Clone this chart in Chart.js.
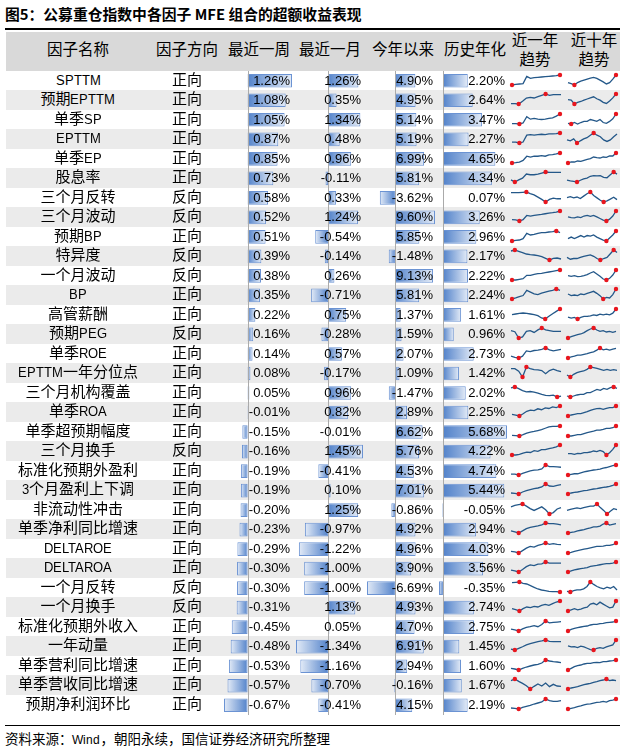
<!DOCTYPE html>
<html>
<head>
<meta charset="utf-8">
<script src="https://cdn.jsdelivr.net/npm/chart.js@4.4.0/dist/chart.umd.min.js"></script>
<style>
@font-face { font-family: 'LatinSm'; src: local('Liberation Sans'), local('LiberationSans'); size-adjust: 87%; }
body { margin: 0; background: #fff; }
#page { position: relative; width: 624px; height: 751px; overflow: hidden; font-family: 'LatinSm', 'Noto Sans CJK SC', sans-serif; color: #000; }
.abs { position: absolute; white-space: nowrap; }
.title { left: 5px; top: 4px; font-size: 14.8px; font-weight: bold; font-family: 'Noto Sans CJK SC', sans-serif; line-height: 20px; }
.rule { left: 5px; width: 615px; background: #000; }
.band { left: 6px; width: 614px; }
.cell { font-size: 15px; text-align: center; z-index: 3; }
.num { font-family: 'Liberation Sans', Arial, sans-serif; font-size: 13px; text-align: right; z-index: 3; }
.head { font-size: 15.5px; text-align: center; line-height: 19px; z-index: 3; }
.foot { left: 5px; top: 731px; font-size: 13.5px; line-height: 18px; }
canvas { position: absolute; z-index: 2; }
</style>
</head>
<body>
<div id="page"></div>
<script>
const factorNames = ['SPTTM', '预期EPTTM', '单季SP', 'EPTTM', '单季EP', '股息率', '三个月反转', '三个月波动',
    '预期BP', '特异度', '一个月波动', 'BP', '高管薪酬', '预期PEG', '单季ROE', 'EPTTM一年分位点', '三个月机构覆盖',
    '单季ROA', '单季超预期幅度', '三个月换手', '标准化预期外盈利', '3个月盈利上下调', '非流动性冲击', '单季净利同比增速',
    'DELTAROE', 'DELTAROA', '一个月反转', '一个月换手', '标准化预期外收入', '一年动量', '单季营利同比增速',
    '单季营收同比增速', '预期净利润环比'];
const directions = ['正向', '正向', '正向', '正向', '正向', '正向', '反向', '反向', '正向', '反向', '反向', '正向',
    '正向', '反向', '正向', '正向', '正向', '正向', '正向', '反向', '正向', '正向', '正向', '正向', '正向', '正向',
    '反向', '反向', '正向', '正向', '正向', '正向', '正向'];
const weekRet = [1.26, 1.08, 1.05, 0.87, 0.85, 0.73, 0.58, 0.52, 0.51, 0.39, 0.38, 0.35, 0.22, 0.16, 0.14, 0.08,
    0.05, -0.01, -0.15, -0.16, -0.19, -0.19, -0.20, -0.23, -0.29, -0.30, -0.30, -0.31, -0.45, -0.48, -0.53, -0.57, -0.67];
const monthRet = [1.26, 0.35, 1.34, 0.48, 0.96, -0.11, 0.33, 1.24, -0.54, -0.14, 0.26, -0.71, 0.75, -0.28, 0.57,
    -0.17, 0.96, 0.82, -0.01, 1.45, -0.41, 0.10, 1.25, -0.97, -1.22, -1.00, -1.00, 1.13, 0.05, -1.34, -1.16, -0.70, -0.41];
const ytdRet = [4.90, 4.95, 5.14, 5.19, 6.99, 5.81, -3.62, 9.60, 5.85, -1.48, 9.13, 5.81, 1.37, 1.59, 2.07, 1.09,
    -1.47, 2.89, 6.62, 5.76, 4.53, 7.01, -0.86, 4.92, 4.96, 3.90, -6.69, 4.93, 4.70, 6.91, 2.94, -0.16, 4.15];
const annualRet = [2.20, 2.64, 3.47, 2.27, 4.65, 4.34, 0.07, 3.26, 2.96, 2.17, 2.22, 2.24, 1.61, 0.96, 2.73, 1.42,
    2.02, 2.25, 5.68, 4.22, 4.74, 5.44, -0.05, 2.94, 4.03, 3.56, -0.35, 2.74, 2.75, 1.45, 1.60, 1.67, 2.19];

// sparkline values (arbitrary units, each line scaled on its own)
const trend1y = [
    [2, 4, 5, 6, 28, 22, 24, 25, 26, 27, 28, 29, 30, 32],
    [13, 13, 12, 20, 30, 32, 30, 34, 38, 42, 38, 40, 40, 40],
    [15, 15, 14, 17, 35, 28, 30, 28, 27, 28, 30, 32, 37, 43],
    [18, 18, 15, 18, 40, 42, 40, 42, 43, 42, 44, 44, 45, 47],
    [17, 18, 20, 25, 38, 35, 38, 38, 40, 38, 42, 43, 45, 48],
    [15, 9, 15, 20, 32, 30, 30, 32, 35, 38, 37, 37, 37, 37],
    [39, 39, 39, 40, 41, 36, 32, 25, 18, 10, 18, 22, 20, 20],
    [18, 17, 14, 18, 30, 28, 30, 32, 33, 35, 37, 38, 40, 43],
    [15, 17, 18, 22, 38, 33, 35, 38, 40, 40, 42, 43, 45, 40],
    [44, 47, 43, 39, 35, 33, 32, 30, 27, 22, 17, 22, 23, 20],
    [8, 8, 10, 12, 22, 22, 25, 27, 28, 30, 32, 34, 36, 38],
    [15, 18, 22, 25, 40, 35, 30, 28, 32, 35, 38, 40, 44, 40],
    [30, 32, 34, 35, 34, 32, 30, 27, 20, 17, 25, 33, 40, 47],
    [30, 27, 10, 13, 28, 30, 25, 32, 37, 32, 30, 28, 28, 28],
    [15, 12, 10, 15, 30, 28, 31, 32, 34, 38, 33, 30, 32, 34],
    [38, 38, 30, 12, 43, 38, 35, 34, 32, 22, 32, 36, 32, 29],
    [40, 43, 38, 32, 28, 29, 27, 24, 20, 17, 16, 18, 12, 15],
    [10, 8, 5, 12, 20, 24, 22, 28, 25, 31, 29, 34, 32, 37],
    [8, 7, 6, 10, 15, 18, 20, 23, 26, 30, 34, 36, 36, 37],
    [20, 20, 22, 25, 28, 27, 32, 30, 35, 35, 38, 40, 43, 48],
    [12, 12, 9, 14, 18, 22, 24, 25, 28, 40, 35, 35, 34, 33],
    [15, 14, 12, 18, 22, 25, 28, 30, 33, 42, 36, 35, 38, 40],
    [30, 34, 36, 38, 32, 25, 20, 25, 30, 22, 10, 14, 24, 28],
    [18, 15, 12, 18, 24, 28, 30, 32, 35, 40, 38, 38, 37, 35],
    [18, 16, 13, 20, 27, 32, 30, 35, 38, 42, 38, 40, 38, 37],
    [20, 18, 15, 22, 30, 35, 33, 37, 38, 43, 40, 40, 40, 40],
    [34, 35, 36, 32, 30, 25, 20, 15, 12, 10, 8, 7, 7, 6],
    [15, 12, 8, 15, 20, 18, 22, 20, 25, 28, 25, 30, 35, 38],
    [15, 13, 10, 16, 20, 22, 25, 22, 28, 38, 33, 34, 35, 36],
    [15, 12, 17, 22, 28, 32, 35, 38, 40, 43, 39, 38, 38, 38],
    [8, 6, 3, 8, 12, 15, 18, 20, 24, 33, 30, 28, 27, 25],
    [30, 35, 28, 22, 15, 5, 13, 20, 14, 23, 12, 19, 14, 13],
    [10, 9, 7, 12, 15, 18, 22, 25, 28, 37, 32, 30, 30, 32]
];
const trend10y = [
    [10, 7, 3, 10, 14, 17, 20, 23, 25, 22, 17, 12, 6, 10, 20, 32],
    [22, 20, 6, 12, 15, 20, 24, 28, 32, 25, 20, 12, 8, 17, 28, 42],
    [20, 18, 22, 18, 22, 25, 25, 30, 28, 25, 30, 22, 20, 25, 32, 45],
    [25, 22, 28, 15, 22, 28, 32, 40, 47, 40, 35, 25, 20, 25, 35, 44],
    [17, 20, 20, 23, 22, 25, 28, 30, 35, 33, 32, 35, 34, 38, 38, 47],
    [15, 13, 12, 10, 15, 19, 21, 26, 28, 27, 28, 23, 22, 30, 38, 32],
    [25, 28, 24, 27, 22, 30, 38, 44, 32, 24, 16, 10, 14, 20, 26, 18],
    [25, 23, 22, 25, 23, 28, 30, 27, 30, 25, 20, 15, 12, 18, 28, 44],
    [20, 25, 20, 25, 30, 25, 30, 28, 32, 25, 20, 15, 12, 22, 32, 45],
    [25, 20, 22, 22, 25, 28, 30, 32, 28, 22, 18, 22, 25, 35, 45, 38],
    [20, 18, 20, 17, 18, 20, 23, 28, 32, 25, 18, 10, 7, 12, 22, 37],
    [30, 25, 27, 25, 30, 28, 32, 35, 38, 32, 25, 15, 20, 18, 28, 45],
    [23, 20, 22, 17, 22, 25, 25, 27, 30, 28, 32, 30, 32, 30, 35, 48],
    [8, 12, 15, 18, 20, 24, 30, 35, 38, 32, 28, 30, 26, 28, 25, 28],
    [10, 13, 15, 18, 18, 20, 22, 25, 27, 32, 38, 33, 35, 32, 35, 37],
    [18, 12, 20, 25, 28, 30, 35, 42, 40, 38, 35, 32, 35, 32, 34, 32],
    [15, 12, 15, 18, 20, 20, 25, 25, 30, 35, 32, 38, 35, 40, 42, 38],
    [5, 8, 10, 12, 12, 15, 18, 22, 25, 27, 28, 25, 28, 30, 30, 35],
    [8, 8, 10, 12, 12, 15, 18, 20, 22, 25, 25, 27, 30, 30, 32, 37],
    [22, 22, 20, 23, 22, 25, 25, 27, 30, 28, 32, 28, 18, 25, 35, 48],
    [8, 10, 12, 12, 15, 18, 20, 22, 24, 25, 27, 30, 32, 35, 38, 40],
    [12, 15, 17, 18, 20, 22, 23, 25, 27, 28, 30, 32, 33, 35, 38, 42],
    [20, 23, 25, 27, 25, 28, 30, 32, 32, 38, 28, 20, 10, 18, 25, 22],
    [12, 14, 15, 18, 20, 22, 25, 27, 30, 30, 32, 38, 41, 35, 37, 39],
    [13, 15, 18, 20, 22, 24, 26, 28, 30, 32, 32, 33, 35, 35, 37, 42],
    [14, 17, 20, 22, 24, 25, 27, 30, 32, 33, 35, 37, 38, 38, 40, 43],
    [8, 6, 10, 12, 12, 15, 22, 35, 28, 22, 18, 15, 20, 17, 22, 12],
    [12, 15, 18, 15, 17, 20, 22, 30, 32, 28, 35, 30, 25, 20, 22, 38],
    [10, 15, 18, 20, 22, 24, 25, 28, 30, 30, 32, 33, 35, 36, 37, 40],
    [25, 22, 23, 20, 24, 22, 18, 14, 13, 18, 20, 18, 22, 25, 28, 42],
    [5, 10, 15, 18, 20, 23, 25, 25, 27, 28, 27, 30, 30, 32, 33, 35],
    [5, 8, 10, 12, 15, 18, 20, 22, 25, 27, 30, 32, 35, 30, 32, 30],
    [8, 10, 12, 15, 17, 20, 22, 23, 25, 27, 28, 30, 28, 32, 34, 37]
];
const headerLabels = ['因子名称', '因子方向', '最近一周', '最近一月', '今年以来', '历史年化', '近一年<br>趋势', '近十年<br>趋势'];

const ROW_TOP = 70.5;
const ROW_H = 19.5;
const page = document.getElementById('page');

function addDiv(cls, css, html) {
    const d = document.createElement('div');
    d.className = 'abs ' + cls;
    Object.assign(d.style, css);
    if (html !== undefined) d.innerHTML = html;
    page.appendChild(d);
    return d;
}

function addCanvas(left, top, w, h) {
    const c = document.createElement('canvas');
    c.width = w;
    c.height = h;
    c.style.left = left + 'px';
    c.style.top = top + 'px';
    page.appendChild(c);
    return c;
}

function fmt(v) {
    return v.toFixed(2) + '%';
}

// title, header, bands, footer
addDiv('title', {}, '图5：公募重仓指数中各因子 MFE 组合的超额收益表现');
addDiv('rule', { top: '28px', height: '1.5px' });
addDiv('band', { top: '32px', height: (ROW_TOP - 32) + 'px', background: '#d9d9d9' });

const headCenters = [78, 187, 259, 330, 403, 475, 535, 594];
headerLabels.forEach((lab, i) => {
    const twoLines = lab.includes('<br>');
    addDiv('head', { left: (headCenters[i] - 40) + 'px', width: '80px', top: twoLines ? '32px' : '41px' }, lab);
});

factorNames.forEach((_, i) => {
    if (i % 2 === 1) {
        addDiv('band', { top: (ROW_TOP + i * ROW_H) + 'px', height: ROW_H + 'px', background: '#ebebeb' });
    }
});

addDiv('rule', { top: '725px', height: '1px' });
addDiv('foot', {}, '资料来源：Wind，朝阳永续，国信证券经济研究所整理');

// data bar columns
const barColumns = [
    { values: weekRet, left: 223, width: 70, textRight: 290 },
    { values: monthRet, left: 295, width: 69, textRight: 361 },
    { values: ytdRet, left: 366, width: 70, textRight: 433 },
    { values: annualRet, left: 438, width: 70, textRight: 505 }
];

const zeroLine = {
    id: 'zeroLine',
    afterDatasetsDraw(chart) {
        const ctx = chart.ctx;
        const px = Math.round(chart.scales.x.getPixelForValue(0)) + 0.5;
        ctx.save();
        ctx.strokeStyle = '#aaaaaa';
        ctx.lineWidth = 1;
        ctx.beginPath();
        ctx.moveTo(px, 0);
        ctx.lineTo(px, chart.height);
        ctx.stroke();
        ctx.restore();
    }
};

function barFill(ctx) {
    const chart = ctx.chart;
    const xs = chart.scales.x;
    if (!xs || !chart.chartArea || typeof ctx.raw !== 'number') return '#5b8bd0';
    const x0 = xs.getPixelForValue(0);
    const x1 = xs.getPixelForValue(ctx.raw);
    if (!Number.isFinite(x0) || !Number.isFinite(x1) || Math.abs(x1 - x0) < 1) return '#5b8bd0';
    const g = chart.ctx.createLinearGradient(x0, 0, x1, 0);
    g.addColorStop(0, '#5282ca');
    g.addColorStop(1, '#e3ebf7');
    return g;
}

barColumns.forEach(col => {
    const cv = addCanvas(col.left, ROW_TOP, col.width, Math.round(ROW_H * factorNames.length));
    new Chart(cv, {
        type: 'bar',
        data: {
            labels: factorNames,
            datasets: [{
                data: col.values,
                backgroundColor: barFill,
                borderColor: '#6b93d3',
                borderWidth: 1,
                borderSkipped: false,
                barPercentage: 0.7,
                categoryPercentage: 1
            }]
        },
        options: {
            indexAxis: 'y',
            responsive: false,
            animation: false,
            events: [],
            layout: { padding: { left: 1, right: 1 } },
            plugins: { legend: { display: false }, tooltip: { enabled: false } },
            scales: {
                x: { display: false, min: Math.min(...col.values), max: Math.max(...col.values) },
                y: { display: false, offset: true }
            }
        },
        plugins: [zeroLine]
    });
});

// sparklines
function sparkline(values, left, top) {
    const cv = addCanvas(left, top, 56, 19);
    const iMax = values.indexOf(Math.max(...values));
    const iMin = values.indexOf(Math.min(...values));
    new Chart(cv, {
        type: 'line',
        data: {
            labels: values.map((_, i) => i),
            datasets: [{
                data: values,
                borderColor: '#245889',
                borderWidth: 1.3,
                tension: 0,
                clip: false,
                pointRadius: c => (c.dataIndex === iMax || c.dataIndex === iMin) ? 2.2 : 0,
                pointBackgroundColor: '#e8161e',
                pointBorderWidth: 0
            }]
        },
        options: {
            responsive: false,
            animation: false,
            events: [],
            layout: { padding: { left: 3, right: 3, top: 4, bottom: 5 } },
            plugins: { legend: { display: false }, tooltip: { enabled: false } },
            scales: {
                x: { display: false },
                y: { display: false, min: Math.min(...values), max: Math.max(...values) }
            }
        }
    });
}

factorNames.forEach((name, i) => {
    const top = ROW_TOP + i * ROW_H;
    const lh = { top: top + 'px', height: ROW_H + 'px', lineHeight: ROW_H + 'px' };
    addDiv('cell', Object.assign({ left: '6px', width: '144px' }, lh), name);
    addDiv('cell', Object.assign({ left: '160px', width: '54px' }, lh), directions[i]);
    barColumns.forEach(col => {
        addDiv('num', Object.assign({ left: (col.textRight - 70) + 'px', width: '70px' }, lh), fmt(col.values[i]));
    });
    sparkline(trend1y[i], 508, top);
    sparkline(trend10y[i], 564, top);
});
</script>
</body>
</html>
